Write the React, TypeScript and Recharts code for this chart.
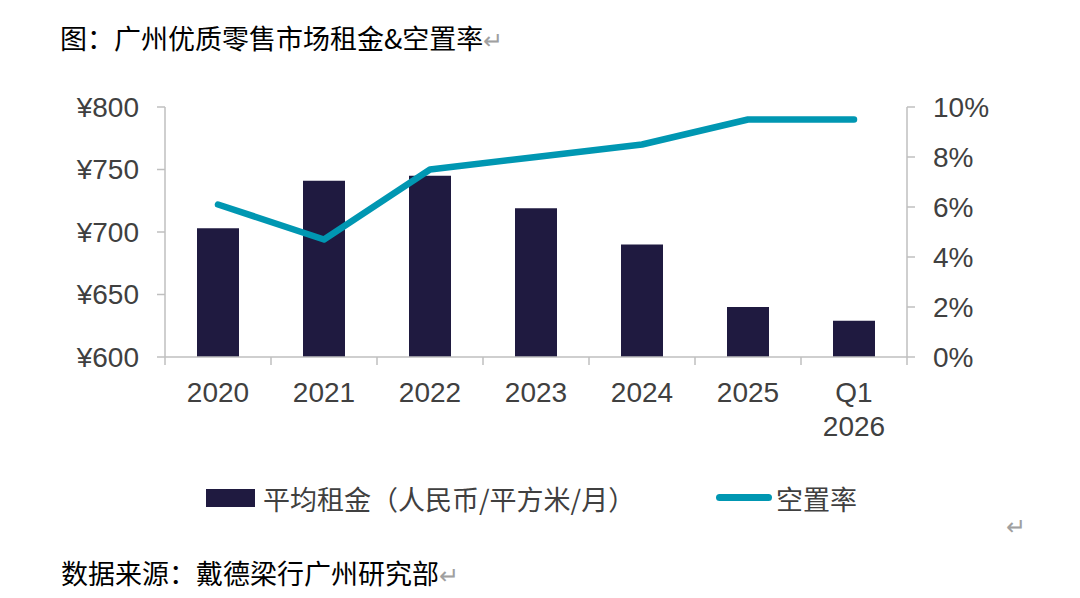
import { Bar, ComposedChart, Line, XAxis, YAxis } from "recharts";

// 广州优质零售市场租金 & 空置率
const periods = ["2020", "2021", "2022", "2023", "2024", "2025", "Q1\n2026"];
const avgRent = [703, 741, 745, 719, 690, 640, 629];
const vacancyRate = [6.1, 4.7, 7.5, 8.0, 8.5, 9.5, 9.5];
const rentTicks = [600, 650, 700, 750, 800];
const vacancyTicks = [0, 2, 4, 6, 8, 10];

const data = periods.map((period, i) => ({
  period,
  rent: avgRent[i],
  vacancy: vacancyRate[i],
}));

const LATIN = '"Liberation Sans", Arial, sans-serif';
const CJK = '"Noto Sans CJK SC", "Noto Sans", sans-serif';
const AXIS = "#bfbfbf";
const TEXT = "#404040";
const BAR = "#1f1a40";
const LINE = "#0097b2";

// label plus Excel-style tick marks on the category boundaries
const PeriodTick = ({ x, y, payload, index, width, visibleTicksCount }: any) => {
  const lines = String(payload.value).split("\n");
  const count = visibleTicksCount || periods.length;
  const half = width / count / 2;
  const last = index === count - 1;
  return (
    <g>
      <line x1={x - half} x2={x - half} y1={y} y2={y + 8} stroke={AXIS} strokeWidth={1.5} />
      {last && <line x1={x + half} x2={x + half} y1={y} y2={y + 8} stroke={AXIS} strokeWidth={1.5} />}
      <text x={x} y={y} textAnchor="middle" fill={TEXT} fontSize={28} fontFamily={LATIN}>
        {lines.map((l, i) => (
          <tspan key={i} x={x} dy={i === 0 ? 45 : 34}>
            {l}
          </tspan>
        ))}
      </text>
    </g>
  );
};

const ret = <span style={{ color: "#a0a0a0", fontSize: 24 }}>↵</span>;

export default function App() {
  return (
    <div
      style={{
        position: "absolute",
        left: 0,
        top: 0,
        width: 1080,
        height: 598,
        background: "#fff",
        fontFamily: CJK,
      }}
    >
      <div
        style={{
          position: "absolute",
          left: 60,
          top: 24,
          fontSize: 27,
          lineHeight: "27px",
          color: "#000",
          whiteSpace: "nowrap",
        }}
      >
        图：广州优质零售市场租金&amp;空置率{ret}
      </div>

      <ComposedChart
        width={1080}
        height={598}
        data={data}
        margin={{ top: 107, right: 73, bottom: 239, left: 65 }}
        style={{ position: "absolute", left: 0, top: 0 }}
      >
        <XAxis
          dataKey="period"
          interval={0}
          tick={<PeriodTick />}
          tickLine={false}
          tickSize={0}
          tickMargin={0}
          axisLine={{ stroke: AXIS, strokeWidth: 1.5 }}
          height={2}
        />
        <YAxis
          yAxisId="rent"
          orientation="left"
          width={100}
          domain={[600, 800]}
          ticks={rentTicks}
          tickFormatter={(v) => `¥${v}`}
          tickSize={8}
          tickMargin={18}
          axisLine={{ stroke: AXIS, strokeWidth: 1.5 }}
          tickLine={{ stroke: AXIS, strokeWidth: 1.5 }}
          tick={{ fill: TEXT, fontSize: 28, fontFamily: LATIN }}
          allowDataOverflow
        />
        <YAxis
          yAxisId="vac"
          orientation="right"
          width={100}
          domain={[0, 10]}
          ticks={vacancyTicks}
          tickFormatter={(v) => `${v}%`}
          tickSize={8}
          tickMargin={18}
          axisLine={{ stroke: AXIS, strokeWidth: 1.5 }}
          tickLine={{ stroke: AXIS, strokeWidth: 1.5 }}
          tick={{ fill: TEXT, fontSize: 28, fontFamily: LATIN, textAnchor: "start" }}
          allowDataOverflow
        />
        <Bar
          yAxisId="rent"
          dataKey="rent"
          fill={BAR}
          barSize={42}
          isAnimationActive={false}
        />
        <Line
          yAxisId="vac"
          dataKey="vacancy"
          type="linear"
          stroke={LINE}
          strokeWidth={6.5}
          strokeLinecap="round"
          strokeLinejoin="round"
          dot={false}
          activeDot={false}
          isAnimationActive={false}
        />
      </ComposedChart>

      {/* legend */}
      <div style={{ position: "absolute", left: 206, top: 489, width: 49, height: 18, background: BAR }} />
      <div
        style={{
          position: "absolute",
          left: 263,
          top: 485,
          fontSize: 27,
          lineHeight: "28px",
          color: TEXT,
          whiteSpace: "nowrap",
        }}
      >
        平均租金（人民币/平方米/月）
      </div>
      <div
        style={{
          position: "absolute",
          left: 716,
          top: 494,
          width: 56,
          height: 7,
          borderRadius: 4,
          background: LINE,
        }}
      />
      <div
        style={{
          position: "absolute",
          left: 776,
          top: 485,
          fontSize: 27,
          lineHeight: "28px",
          color: TEXT,
          whiteSpace: "nowrap",
        }}
      >
        空置率
      </div>
      <div style={{ position: "absolute", left: 1006, top: 507, color: "#a0a0a0", fontSize: 24 }}>↵</div>

      <div
        style={{
          position: "absolute",
          left: 61,
          top: 559,
          fontSize: 27,
          lineHeight: "28px",
          color: "#000",
          whiteSpace: "nowrap",
        }}
      >
        数据来源：戴德梁行广州研究部{ret}
      </div>
    </div>
  );
}
